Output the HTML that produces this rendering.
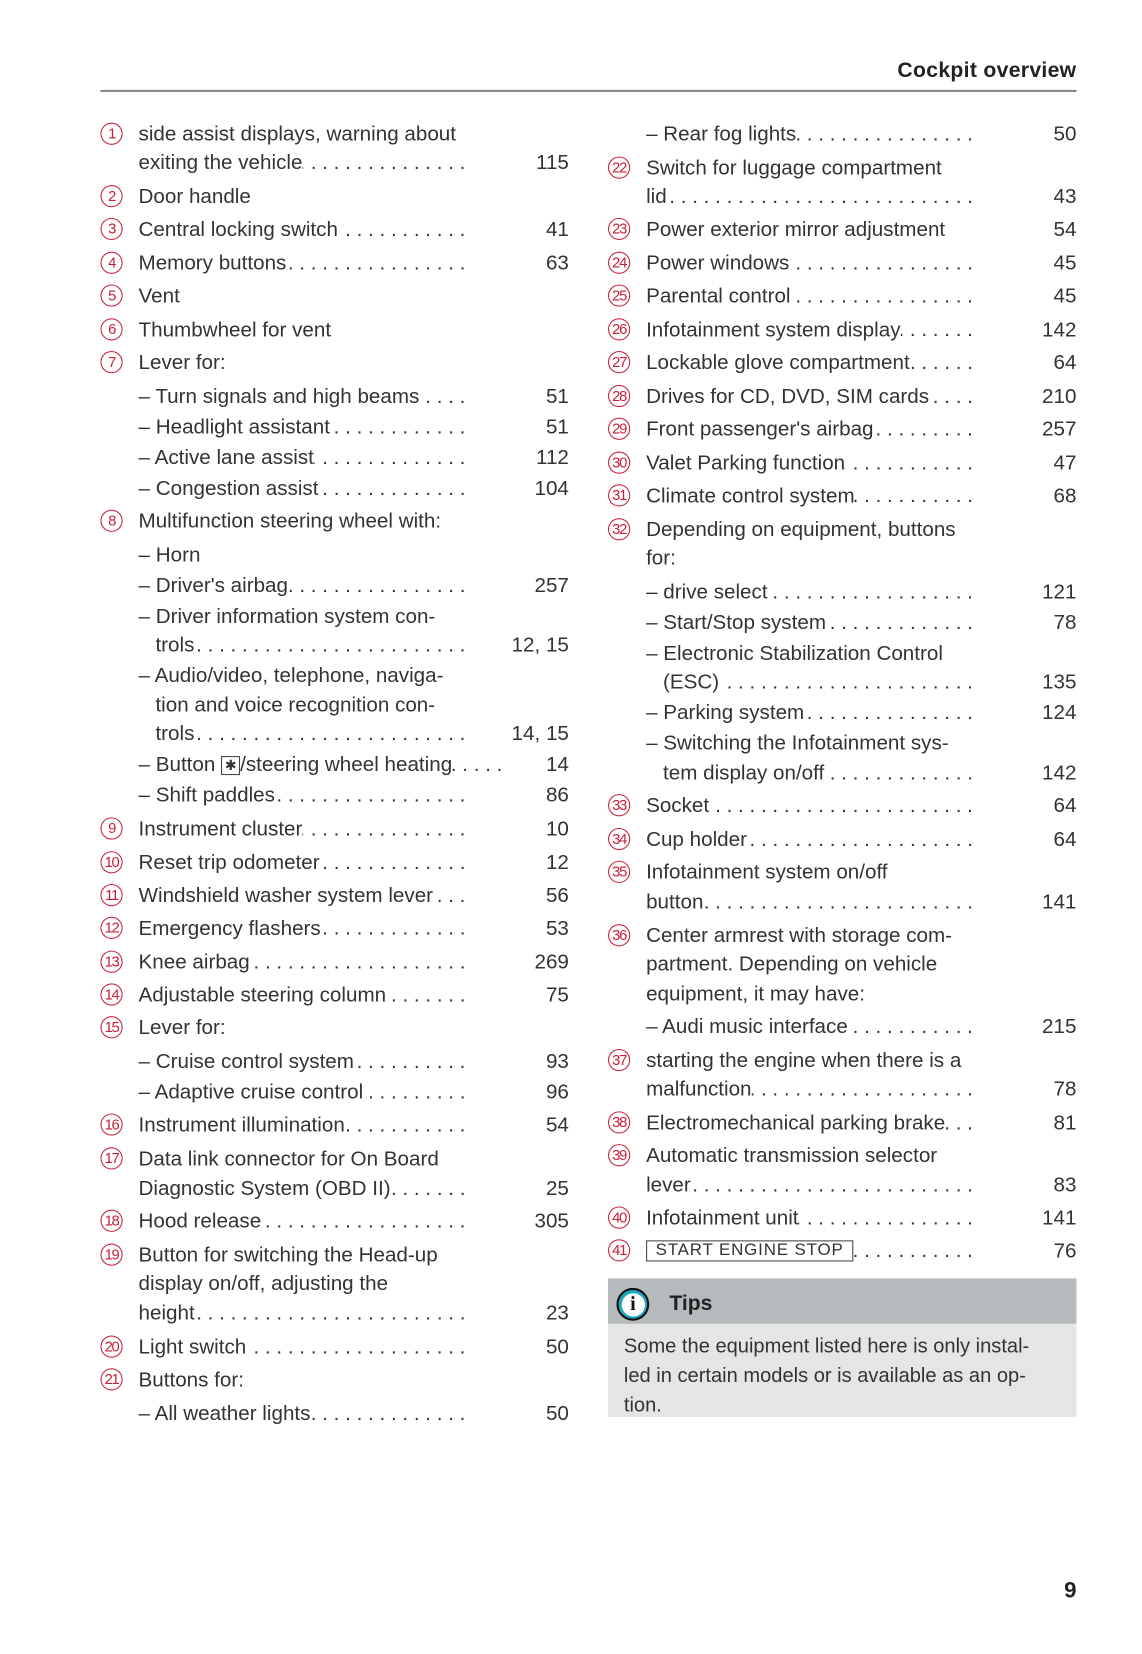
<!DOCTYPE html>
<html><head><meta charset="utf-8"><style>
html,body{margin:0;padding:0;background:#fff}
body{width:1142px;height:1654px;overflow:hidden;position:relative}
#p{position:absolute;left:0;top:0;width:1080px;height:1564px;transform:scale(1.05741);transform-origin:0 0;font-family:"Liberation Sans",sans-serif;font-size:19.5px;color:#333}
.w{position:absolute;left:0;width:1080px;height:24px;line-height:24px;white-space:nowrap}
.w>*{position:absolute;top:0}
.c{width:19px;height:19px;border:1.6px solid #c8203a;border-radius:50%;color:#c8203a;font-size:14px;line-height:19px;text-align:center;top:1px;letter-spacing:-1.2px}
.L .c{left:95px}.R .c{left:575px}
.L .t{left:131px}.R .t{left:611px}
.L .i{left:147px}.R .i{left:627px}
.d{display:flex;width:309px}
.L .d{left:131px}.R .d{left:611px}
.L .d.i{left:147px;width:293px}.R .d.i{left:627px;width:293px}
.d>b{font-weight:normal;flex:none}
.d>i{flex:1;overflow:hidden;direction:rtl;font-style:normal;padding-left:10px;letter-spacing:0}
.d>i::after{content:". . . . . . . . . . . . . . . . . . . . . . . . . . . . . . . . . . . . . . . . . . . . . . . . . . . . . . . . . . ."}
.n{width:98px;text-align:right}
.L .n{left:440px}.R .n{left:920px}
</style></head><body><div id="p">
<div style="position:absolute;right:62px;top:56px;font-weight:bold;font-size:20px;color:#222;letter-spacing:0.3px">Cockpit overview</div>
<div style="position:absolute;left:95px;top:85px;width:923px;height:2px;background:#888"></div>

<div class="w L" style="top:115px"><span class="c">1</span><span class="t">side assist displays, warning about</span></div>
<div class="w L" style="top:142px"><span class="d"><b>exiting the vehicle</b><i></i></span><span class="n">115</span></div>
<div class="w L" style="top:174px"><span class="c">2</span><span class="t">Door handle</span></div>
<div class="w L" style="top:205px"><span class="c">3</span><span class="d"><b>Central locking switch</b><i></i></span><span class="n">41</span></div>
<div class="w L" style="top:237px"><span class="c">4</span><span class="d"><b>Memory buttons</b><i></i></span><span class="n">63</span></div>
<div class="w L" style="top:268px"><span class="c">5</span><span class="t">Vent</span></div>
<div class="w L" style="top:300px"><span class="c">6</span><span class="t">Thumbwheel for vent</span></div>
<div class="w L" style="top:331px"><span class="c">7</span><span class="t">Lever for:</span></div>
<div class="w L" style="top:363px"><span class="d"><b>– Turn signals and high beams</b><i></i></span><span class="n">51</span></div>
<div class="w L" style="top:392px"><span class="d"><b>– Headlight assistant</b><i></i></span><span class="n">51</span></div>
<div class="w L" style="top:421px"><span class="d"><b>– Active lane assist</b><i></i></span><span class="n">112</span></div>
<div class="w L" style="top:450px"><span class="d"><b>– Congestion assist</b><i></i></span><span class="n">104</span></div>
<div class="w L" style="top:481px"><span class="c">8</span><span class="t">Multifunction steering wheel with:</span></div>
<div class="w L" style="top:513px"><span class="t">– Horn</span></div>
<div class="w L" style="top:542px"><span class="d"><b>– Driver's airbag</b><i></i></span><span class="n">257</span></div>
<div class="w L" style="top:571px"><span class="t">– Driver information system con-</span></div>
<div class="w L" style="top:598px"><span class="d i"><b>trols</b><i></i></span><span class="n">12, 15</span></div>
<div class="w L" style="top:627px"><span class="t">– Audio/video, telephone, naviga-</span></div>
<div class="w L" style="top:655px"><span class="i">tion and voice recognition con-</span></div>
<div class="w L" style="top:682px"><span class="d i"><b>trols</b><i></i></span><span class="n">14, 15</span></div>
<div class="w L" style="top:711px"><span class="d" style="width:344px"><b>– Button <span style="display:inline-block;border:1px solid #444;width:16px;height:16px;line-height:16px;text-align:center;font-size:13px;vertical-align:1px">✱</span>/steering wheel heating</b><i></i></span><span class="n">14</span></div>
<div class="w L" style="top:740px"><span class="d"><b>– Shift paddles</b><i></i></span><span class="n">86</span></div>
<div class="w L" style="top:772px"><span class="c">9</span><span class="d"><b>Instrument cluster</b><i></i></span><span class="n">10</span></div>
<div class="w L" style="top:804px"><span class="c">10</span><span class="d"><b>Reset trip odometer</b><i></i></span><span class="n">12</span></div>
<div class="w L" style="top:835px"><span class="c">11</span><span class="d"><b>Windshield washer system lever</b><i></i></span><span class="n">56</span></div>
<div class="w L" style="top:866px"><span class="c">12</span><span class="d"><b>Emergency flashers</b><i></i></span><span class="n">53</span></div>
<div class="w L" style="top:898px"><span class="c">13</span><span class="d"><b>Knee airbag</b><i></i></span><span class="n">269</span></div>
<div class="w L" style="top:929px"><span class="c">14</span><span class="d"><b>Adjustable steering column</b><i></i></span><span class="n">75</span></div>
<div class="w L" style="top:960px"><span class="c">15</span><span class="t">Lever for:</span></div>
<div class="w L" style="top:992px"><span class="d"><b>– Cruise control system</b><i></i></span><span class="n">93</span></div>
<div class="w L" style="top:1021px"><span class="d"><b>– Adaptive cruise control</b><i></i></span><span class="n">96</span></div>
<div class="w L" style="top:1052px"><span class="c">16</span><span class="d"><b>Instrument illumination</b><i></i></span><span class="n">54</span></div>
<div class="w L" style="top:1084px"><span class="c">17</span><span class="t">Data link connector for On Board</span></div>
<div class="w L" style="top:1112px"><span class="d"><b>Diagnostic System (OBD II)</b><i></i></span><span class="n">25</span></div>
<div class="w L" style="top:1143px"><span class="c">18</span><span class="d"><b>Hood release</b><i></i></span><span class="n">305</span></div>
<div class="w L" style="top:1175px"><span class="c">19</span><span class="t">Button for switching the Head-up</span></div>
<div class="w L" style="top:1202px"><span class="t">display on/off, adjusting the</span></div>
<div class="w L" style="top:1230px"><span class="d"><b>height</b><i></i></span><span class="n">23</span></div>
<div class="w L" style="top:1262px"><span class="c">20</span><span class="d"><b>Light switch</b><i></i></span><span class="n">50</span></div>
<div class="w L" style="top:1293px"><span class="c">21</span><span class="t">Buttons for:</span></div>
<div class="w L" style="top:1325px"><span class="d"><b>– All weather lights</b><i></i></span><span class="n">50</span></div>

<div class="w R" style="top:115px"><span class="d"><b>– Rear fog lights</b><i></i></span><span class="n">50</span></div>
<div class="w R" style="top:147px"><span class="c">22</span><span class="t">Switch for luggage compartment</span></div>
<div class="w R" style="top:174px"><span class="d"><b>lid</b><i></i></span><span class="n">43</span></div>
<div class="w R" style="top:205px"><span class="c">23</span><span class="t">Power exterior mirror adjustment</span><span class="n">54</span></div>
<div class="w R" style="top:237px"><span class="c">24</span><span class="d"><b>Power windows</b><i></i></span><span class="n">45</span></div>
<div class="w R" style="top:268px"><span class="c">25</span><span class="d"><b>Parental control</b><i></i></span><span class="n">45</span></div>
<div class="w R" style="top:300px"><span class="c">26</span><span class="d"><b>Infotainment system display</b><i></i></span><span class="n">142</span></div>
<div class="w R" style="top:331px"><span class="c">27</span><span class="d"><b>Lockable glove compartment</b><i></i></span><span class="n">64</span></div>
<div class="w R" style="top:363px"><span class="c">28</span><span class="d"><b>Drives for CD, DVD, SIM cards</b><i></i></span><span class="n">210</span></div>
<div class="w R" style="top:394px"><span class="c">29</span><span class="d"><b>Front passenger's airbag</b><i></i></span><span class="n">257</span></div>
<div class="w R" style="top:426px"><span class="c">30</span><span class="d"><b>Valet Parking function</b><i></i></span><span class="n">47</span></div>
<div class="w R" style="top:457px"><span class="c">31</span><span class="d"><b>Climate control system</b><i></i></span><span class="n">68</span></div>
<div class="w R" style="top:489px"><span class="c">32</span><span class="t">Depending on equipment, buttons</span></div>
<div class="w R" style="top:516px"><span class="t">for:</span></div>
<div class="w R" style="top:548px"><span class="d"><b>– drive select</b><i></i></span><span class="n">121</span></div>
<div class="w R" style="top:577px"><span class="d"><b>– Start/Stop system</b><i></i></span><span class="n">78</span></div>
<div class="w R" style="top:606px"><span class="t">– Electronic Stabilization Control</span></div>
<div class="w R" style="top:633px"><span class="d i"><b>(ESC)</b><i></i></span><span class="n">135</span></div>
<div class="w R" style="top:662px"><span class="d"><b>– Parking system</b><i></i></span><span class="n">124</span></div>
<div class="w R" style="top:691px"><span class="t">– Switching the Infotainment sys-</span></div>
<div class="w R" style="top:719px"><span class="d i"><b>tem display on/off</b><i></i></span><span class="n">142</span></div>
<div class="w R" style="top:750px"><span class="c">33</span><span class="d"><b>Socket</b><i></i></span><span class="n">64</span></div>
<div class="w R" style="top:782px"><span class="c">34</span><span class="d"><b>Cup holder</b><i></i></span><span class="n">64</span></div>
<div class="w R" style="top:813px"><span class="c">35</span><span class="t">Infotainment system on/off</span></div>
<div class="w R" style="top:841px"><span class="d"><b>button</b><i></i></span><span class="n">141</span></div>
<div class="w R" style="top:873px"><span class="c">36</span><span class="t">Center armrest with storage com-</span></div>
<div class="w R" style="top:900px"><span class="t">partment. Depending on vehicle</span></div>
<div class="w R" style="top:928px"><span class="t">equipment, it may have:</span></div>
<div class="w R" style="top:959px"><span class="d"><b>– Audi music interface</b><i></i></span><span class="n">215</span></div>
<div class="w R" style="top:991px"><span class="c">37</span><span class="t">starting the engine when there is a</span></div>
<div class="w R" style="top:1018px"><span class="d"><b>malfunction</b><i></i></span><span class="n">78</span></div>
<div class="w R" style="top:1050px"><span class="c">38</span><span class="d"><b>Electromechanical parking brake</b><i></i></span><span class="n">81</span></div>
<div class="w R" style="top:1081px"><span class="c">39</span><span class="t">Automatic transmission selector</span></div>
<div class="w R" style="top:1109px"><span class="d"><b>lever</b><i></i></span><span class="n">83</span></div>
<div class="w R" style="top:1140px"><span class="c">40</span><span class="d"><b>Infotainment unit</b><i></i></span><span class="n">141</span></div>
<div class="w R" style="top:1171px"><span class="c">41</span><span class="d"><b><span style="display:inline-block;border:1px solid #444;height:18px;line-height:18px;padding:0 8px;font-size:16px;letter-spacing:0.8px;vertical-align:2px">START ENGINE STOP</span></b><i></i></span><span class="n">76</span></div>

<div style="position:absolute;left:575px;top:1209px;width:443px;height:43px;background:#b5babd"></div>
<div style="position:absolute;left:575px;top:1252px;width:443px;height:88px;background:#e5e5e5"></div>
<div style="position:absolute;left:583px;top:1218px;width:27px;height:27px;border-radius:50%;border:2.5px solid #111;background:#20a9bd"><div style="position:absolute;left:2.5px;top:2.5px;width:22px;height:22px;border-radius:50%;background:#fff;text-align:center;line-height:22px;font-weight:bold;font-family:'Liberation Serif',serif;font-size:19px;color:#111">i</div></div>
<div style="position:absolute;left:633px;top:1222px;font-weight:bold;font-size:20px;color:#222">Tips</div>
<div style="position:absolute;left:590px;top:1260px;line-height:28px;color:#333;font-size:19px">Some the equipment listed here is only instal-<br>led in certain models or is available as an op-<br>tion.</div>

<div style="position:absolute;right:62px;top:1493px;font-weight:bold;font-size:21px;color:#222">9</div>
</div></body></html>
